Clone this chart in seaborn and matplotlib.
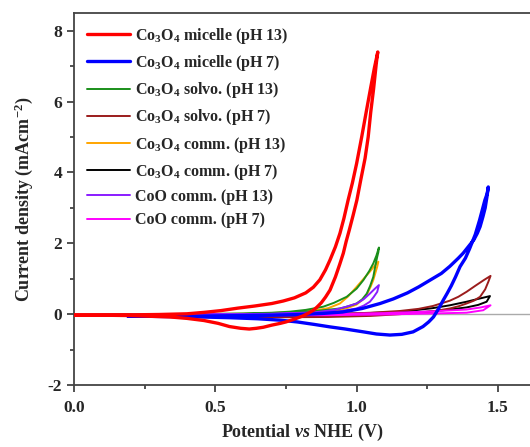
import matplotlib
matplotlib.use("Agg")
import matplotlib.pyplot as plt
import seaborn as sns
import pandas as pd
from matplotlib.ticker import MultipleLocator

# ---------------- data ----------------
labels = [
    "Co$_3$O$_4$ micelle (pH 13)",
    "Co$_3$O$_4$ micelle (pH 7)",
    "Co$_3$O$_4$ solvo. (pH 13)",
    "Co$_3$O$_4$ solvo. (pH 7)",
    "Co$_3$O$_4$ comm. (pH 13)",
    "Co$_3$O$_4$ comm. (pH 7)",
    "CoO comm. (pH 13)",
    "CoO comm. (pH 7)",
]

red_v = [0.00, 0.10, 0.20, 0.30, 0.40, 0.46, 0.52, 0.58, 0.64, 0.70, 0.74, 0.78, 0.82, 0.847, 0.87,
         0.89, 0.906, 0.925, 0.941, 0.955, 0.97, 0.985, 1.00, 1.018, 1.035, 1.05, 1.063, 1.075,
         1.070, 1.060, 1.050, 1.041, 1.030, 1.015, 1.001, 0.988, 0.974, 0.963, 0.953, 0.94, 0.925,
         0.906, 0.89, 0.875, 0.86, 0.847, 0.83, 0.81, 0.78, 0.75, 0.73, 0.70, 0.67, 0.645, 0.62,
         0.59, 0.55, 0.51, 0.46, 0.40, 0.34, 0.27, 0.20, 0.10, 0.00]
red_j = [-0.03, -0.03, -0.02, -0.01, 0.01, 0.05, 0.10, 0.17, 0.23, 0.30, 0.37, 0.46, 0.60, 0.76, 0.97,
         1.25, 1.53, 1.90, 2.28, 2.70, 3.22, 3.70, 4.25, 5.00, 5.75, 6.40, 6.95, 7.40,
         7.10, 6.35, 5.70, 5.00, 4.40, 3.80, 3.22, 2.80, 2.37, 2.05, 1.72, 1.40, 1.05,
         0.68, 0.48, 0.32, 0.20, 0.11, 0.03, -0.05, -0.14, -0.22, -0.26, -0.31, -0.37, -0.40, -0.42,
         -0.40, -0.35, -0.26, -0.18, -0.12, -0.08, -0.06, -0.04, -0.03, -0.03]

blue_v = [0.19, 0.30, 0.40, 0.50, 0.60, 0.70, 0.80, 0.88, 0.95, 1.02, 1.083, 1.13, 1.18, 1.22, 1.26,
          1.30, 1.33, 1.36, 1.377, 1.40, 1.415, 1.427, 1.437, 1.447, 1.455, 1.461, 1.466,
          1.462, 1.454, 1.445, 1.435, 1.42, 1.40, 1.385, 1.366, 1.35, 1.335, 1.32, 1.307, 1.29,
          1.272, 1.255, 1.235, 1.20, 1.16, 1.118, 1.07, 1.024, 0.96, 0.906, 0.85, 0.79, 0.729,
          0.65, 0.55, 0.45, 0.35, 0.25, 0.19]
blue_j = [-0.05, -0.06, -0.06, -0.05, -0.04, -0.03, -0.01, 0.02, 0.06, 0.16, 0.30, 0.43, 0.60, 0.77, 0.96,
          1.15, 1.35, 1.58, 1.72, 1.95, 2.10, 2.28, 2.47, 2.75, 3.00, 3.30, 3.59,
          3.40, 3.22, 2.95, 2.65, 2.25, 1.85, 1.58, 1.34, 1.05, 0.80, 0.58, 0.40, 0.15,
          -0.08, -0.22, -0.35, -0.50, -0.57, -0.59, -0.56, -0.50, -0.42, -0.36, -0.29, -0.22, -0.17,
          -0.13, -0.10, -0.08, -0.07, -0.06, -0.05]

green_v = [0.00, 0.20, 0.40, 0.60, 0.70, 0.764, 0.82, 0.882, 0.92, 0.965, 1.00, 1.024, 1.045, 1.059,
           1.07, 1.079, 1.077, 1.073, 1.066, 1.059, 1.048, 1.036, 1.02, 1.00, 0.97, 0.941, 0.882,
           0.80, 0.70, 0.50, 0.30, 0.00]
green_j = [-0.02, -0.01, 0.00, 0.02, 0.04, 0.07, 0.12, 0.21, 0.32, 0.49, 0.72, 0.96, 1.22, 1.43,
           1.65, 1.88, 1.75, 1.62, 1.35, 1.05, 0.80, 0.58, 0.42, 0.30, 0.22, 0.16, 0.11,
           0.05, 0.02, -0.01, -0.02, -0.02]

brown_v = [0.19, 0.40, 0.60, 0.80, 0.95, 1.05, 1.154, 1.22, 1.27, 1.33, 1.36, 1.389, 1.42, 1.45, 1.474,
           1.466, 1.455, 1.437, 1.415, 1.389, 1.36, 1.33, 1.27, 1.154, 1.05, 0.90, 0.70, 0.50, 0.30, 0.19]
brown_j = [-0.05, -0.04, -0.03, -0.01, 0.01, 0.04, 0.09, 0.15, 0.23, 0.38, 0.49, 0.63, 0.80, 0.96, 1.08,
           0.91, 0.70, 0.49, 0.38, 0.30, 0.22, 0.16, 0.08, 0.00, -0.05, -0.08, -0.09, -0.08, -0.06, -0.05]

orange_v = [0.00, 0.30, 0.50, 0.65, 0.76, 0.85, 0.90, 0.941, 0.97, 1.00, 1.025, 1.047, 1.065, 1.077,
            1.073, 1.066, 1.059, 1.05, 1.036, 1.02, 1.00, 0.97, 0.94, 0.88, 0.80, 0.60, 0.30, 0.00]
orange_j = [-0.02, -0.01, 0.00, 0.02, 0.05, 0.10, 0.17, 0.30, 0.50, 0.77, 1.00, 1.20, 1.38, 1.48,
            1.34, 1.15, 0.96, 0.78, 0.55, 0.40, 0.27, 0.18, 0.12, 0.07, 0.03, 0.00, -0.02, -0.02]

black_v = [0.19, 0.50, 0.80, 1.00, 1.154, 1.27, 1.33, 1.389, 1.43, 1.472,
           1.46, 1.43, 1.389, 1.33, 1.27, 1.154, 1.00, 0.80, 0.50, 0.19]
black_j = [-0.04, -0.03, -0.01, 0.02, 0.06, 0.17, 0.25, 0.35, 0.43, 0.51,
           0.35, 0.26, 0.19, 0.13, 0.08, 0.02, -0.03, -0.06, -0.06, -0.04]

purple_v = [0.00, 0.40, 0.70, 0.85, 0.92, 0.96, 1.00, 1.025, 1.047, 1.065, 1.079,
            1.073, 1.06, 1.047, 1.025, 1.00, 0.941, 0.85, 0.60, 0.30, 0.00]
purple_j = [-0.02, -0.01, 0.01, 0.05, 0.12, 0.20, 0.30, 0.42, 0.58, 0.72, 0.82,
            0.63, 0.48, 0.35, 0.24, 0.16, 0.08, 0.03, -0.01, -0.02, -0.02]

magenta_v = [0.19, 0.60, 0.90, 1.10, 1.27, 1.389, 1.44, 1.474,
             1.448, 1.389, 1.27, 1.10, 0.90, 0.60, 0.19]
magenta_j = [-0.03, -0.02, 0.00, 0.03, 0.08, 0.13, 0.19, 0.25,
             0.11, 0.04, 0.02, -0.01, -0.03, -0.04, -0.03]

xticks = [0.0, 0.5, 1.0, 1.5]
yticks = [-2, 0, 2, 4, 6, 8]

series = [
    (red_v, red_j, "#ff0000", 2.4, 10),
    (blue_v, blue_j, "#0000ff", 2.4, 9),
    (green_v, green_j, "#1a8f1a", 1.4, 6),
    (brown_v, brown_j, "#9b1c1c", 1.4, 4),
    (orange_v, orange_j, "#ffa500", 1.4, 5),
    (black_v, black_j, "#000000", 1.4, 3),
    (purple_v, purple_j, "#8a1cff", 1.4, 7),
    (magenta_v, magenta_j, "#ff00ff", 1.4, 5),
]

# ---------------- style ----------------
sns.set_style("ticks")
plt.rcParams["font.family"] = ["Liberation Serif", "DejaVu Serif"]
plt.rcParams["font.weight"] = "bold"
plt.rcParams["mathtext.fontset"] = "custom"
plt.rcParams["mathtext.rm"] = "Liberation Serif:bold"
plt.rcParams["mathtext.bf"] = "Liberation Serif:bold"
plt.rcParams["mathtext.it"] = "Liberation Serif:italic:bold"
plt.rcParams["mathtext.default"] = "bf"

fig = plt.figure(figsize=(5.30, 4.47), dpi=100)
ax = fig.add_axes([74 / 530, 62 / 447, 1 - 74 / 530, (385 - 13) / 447])

ax.axhline(0, color="#aaaaaa", lw=1.0, zorder=1)

for (v, j, c, lw, z), lab in zip(series, labels):
    df = pd.DataFrame({"v": v, "j": j})
    sns.lineplot(data=df, x="v", y="j", sort=False, estimator=None, color=c,
                 lw=lw, label=lab, ax=ax, zorder=z)

ax.set_xlim(0.0, 456 / 282.6)
ax.set_ylim(-2, 8.5)
ax.set_xticks(xticks)
ax.set_xticklabels([f"{t:.1f}" for t in xticks])
ax.set_yticks(yticks)
ax.set_yticklabels([str(t) for t in yticks])
ax.xaxis.set_minor_locator(MultipleLocator(0.25))
ax.yaxis.set_minor_locator(MultipleLocator(1))
ax.tick_params(axis="both", which="major", direction="out", length=5, width=1.2,
               labelsize=12.5, color="#333333")
ax.tick_params(axis="both", which="minor", direction="out", length=3, width=1.2, color="#333333")
ax.tick_params(axis="x", pad=6)
for lab in ax.get_xticklabels() + ax.get_yticklabels():
    lab.set_fontweight("bold")

for s in ["left", "bottom", "top"]:
    ax.spines[s].set_linewidth(1.3)
    ax.spines[s].set_color("#444444")
ax.spines["right"].set_visible(False)

ax.set_xlabel(r"Potential $\mathit{vs}$ NHE (V)", fontsize=13, fontweight="bold", labelpad=4)
ax.set_ylabel(r"Current density (mAcm$^{-2}$)", fontsize=13, fontweight="bold", labelpad=9)

leg = ax.legend(loc="upper left", bbox_to_anchor=(0.0, 1.0), frameon=False,
                handlelength=2.7, handletextpad=0.3, labelspacing=0.45,
                borderaxespad=0.4, prop={"family": "Liberation Serif", "weight": "bold", "size": 11.5})

fig.savefig("out.png", dpi=100)
